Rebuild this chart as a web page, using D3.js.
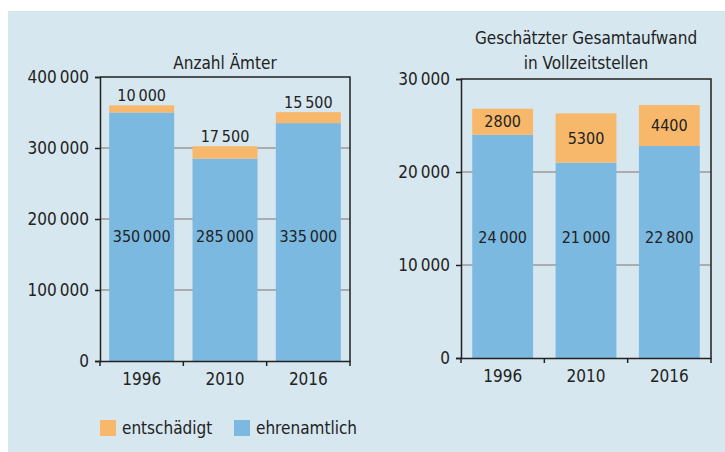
<!DOCTYPE html>
<html>
<head>
<meta charset="utf-8">
<script src="https://cdn.jsdelivr.net/npm/d3@7"></script>
<style>
  body { margin: 0; background: #fff; }
  svg { display: block; }
  text { font-family: "Liberation Sans Narrow", "DejaVu Sans Condensed", sans-serif; fill: #222; }
</style>
</head>
<body>
<div id="chart"></div>
<script>
// Daten
const years = ["1996", "2010", "2016"];
const seriesNames = ["ehrenamtlich", "entschädigt"];
const aemterEhren = [350000, 285000, 335000];
const aemterEntsch = [10000, 17500, 15500];
const aufwandEhren = [24000, 21000, 22800];
const aufwandEntsch = [2800, 5300, 4400];
const aemterTicks = [0, 100000, 200000, 300000, 400000];
const aufwandTicks = [0, 10000, 20000, 30000];

const colors = { "ehrenamtlich": "#7bb9e0", "entschädigt": "#f7b86b" };

const width = 725, height = 452;
const svg = d3.select("#chart").append("svg")
    .attr("width", width)
    .attr("height", height);

// Hintergrund
svg.append("rect")
    .attr("x", 8).attr("y", 11)
    .attr("width", width - 8).attr("height", height - 11)
    .attr("fill", "#d7e7ef");

const fmt = v => d3.format(",")(v).replace(/,/g, "\u2009");

function drawPanel(opts) {
    const g = svg.append("g");
    const x = d3.scaleBand().domain(years).range([opts.left, opts.left + 250])
        .paddingInner(opts.pad).paddingOuter(opts.pad / 2);
    const xb = d3.scaleBand().domain(years).range([opts.left, opts.left + 250]);
    const y = d3.scaleLinear().domain([0, opts.max]).range([opts.bottom, opts.top]);

    // Gitterlinien
    g.selectAll(".grid").data(opts.ticks.filter(t => t > 0 && t < opts.max)).enter()
        .append("line")
        .attr("x1", opts.left).attr("x2", opts.left + 250)
        .attr("y1", d => y(d)).attr("y2", d => y(d))
        .attr("stroke", "#9a9a9a").attr("stroke-width", 1.5);

    const data = years.map((yr, i) => ({ year: yr, ehrenamtlich: opts.ehren[i], "entschädigt": opts.entsch[i] }));
    const stacked = d3.stack().keys(seriesNames)(data);

    g.selectAll(".layer").data(stacked).enter().append("g")
        .attr("fill", d => colors[d.key])
        .selectAll("rect").data(d => d).enter().append("rect")
        .attr("x", d => x(d.data.year))
        .attr("width", x.bandwidth())
        .attr("y", d => y(d[1]))
        .attr("height", d => y(d[0]) - y(d[1]));

    // Rahmen oben/rechts
    g.append("path")
        .attr("d", `M${opts.left},${y(opts.max)}H${opts.left + 250}V${opts.bottom}`)
        .attr("fill", "none").attr("stroke", "#222").attr("stroke-width", 1.5);

    // Achsen
    const yAxis = d3.axisLeft(y).tickValues(opts.ticks).tickSize(5).tickPadding(6).tickFormat(fmt);
    const ya = g.append("g").attr("transform", `translate(${opts.left},0)`).call(yAxis);
    ya.select(".domain").attr("stroke", "#222").attr("stroke-width", 1.5);
    ya.selectAll(".tick line").attr("stroke", "#222").attr("stroke-width", 1.5);
    ya.selectAll("text").style("font-size", "17px").attr("fill", "#222");

    const xAxis = d3.axisBottom(xb).tickSize(0).tickPadding(8);
    const xa = g.append("g").attr("transform", `translate(0,${opts.bottom})`).call(xAxis);
    xa.select(".domain").attr("stroke", "#222").attr("stroke-width", 1.5);
    xa.selectAll("text").style("font-size", "17px").attr("fill", "#222").attr("dy", "0.95em");
    // Trennstriche zwischen Kategorien
    g.selectAll(".sep").data(years).enter().append("line")
        .attr("x1", d => xb(d) + xb.bandwidth()).attr("x2", d => xb(d) + xb.bandwidth())
        .attr("y1", opts.bottom).attr("y2", opts.bottom + 5)
        .attr("stroke", "#222").attr("stroke-width", 1.5);
    g.append("line")
        .attr("x1", opts.left).attr("x2", opts.left)
        .attr("y1", opts.bottom).attr("y2", opts.bottom + 5)
        .attr("stroke", "#222").attr("stroke-width", 1.5);

    // Werte ehrenamtlich
    g.selectAll(".lblE").data(data).enter().append("text")
        .attr("x", d => x(d.year) + x.bandwidth() / 2)
        .attr("y", y(opts.labelAt))
        .attr("dy", "0.35em")
        .attr("text-anchor", "middle")
        .style("font-size", "16px")
        .text(d => fmt(d.ehrenamtlich));

    // Werte entschädigt
    g.selectAll(".lblO").data(data).enter().append("text")
        .attr("x", d => x(d.year) + x.bandwidth() / 2)
        .attr("y", d => opts.orangeInside
            ? y(d.ehrenamtlich + d["entschädigt"] / 2)
            : y(d.ehrenamtlich + d["entschädigt"]) - 10)
        .attr("dy", "0.35em")
        .attr("text-anchor", "middle")
        .style("font-size", "16px")
        .text(d => opts.orangeInside ? d["entschädigt"] : fmt(d["entschädigt"]));

    // Titel
    opts.title.forEach((t, i) => {
        g.append("text")
            .attr("x", opts.left + 125)
            .attr("y", opts.titleY + i * 25)
            .attr("dy", "0.35em")
            .attr("text-anchor", "middle")
            .style("font-size", "17px")
            .text(t);
    });
}

drawPanel({
    left: 100, top: 77, bottom: 361, max: 400000, pad: 0.22,
    ticks: aemterTicks, ehren: aemterEhren, entsch: aemterEntsch,
    labelAt: 175000, orangeInside: false,
    title: ["Anzahl Ämter"], titleY: 63
});

drawPanel({
    left: 461, top: 79, bottom: 358, max: 30000, pad: 0.27,
    ticks: aufwandTicks, ehren: aufwandEhren, entsch: aufwandEntsch,
    labelAt: 13000, orangeInside: true,
    title: ["Geschätzter Gesamtaufwand", "in Vollzeitstellen"], titleY: 38
});

// Legende
const legend = svg.append("g").attr("transform", "translate(100,420)");
const legItems = [["entschädigt", 0], ["ehrenamtlich", 134]];
legItems.forEach(([name, dx]) => {
    legend.append("rect")
        .attr("x", dx).attr("y", 0)
        .attr("width", 16).attr("height", 16)
        .attr("fill", colors[name]);
    legend.append("text")
        .attr("x", dx + 22).attr("y", 8)
        .attr("dy", "0.35em")
        .style("font-size", "17px")
        .text(name);
});
</script>
</body>
</html>
